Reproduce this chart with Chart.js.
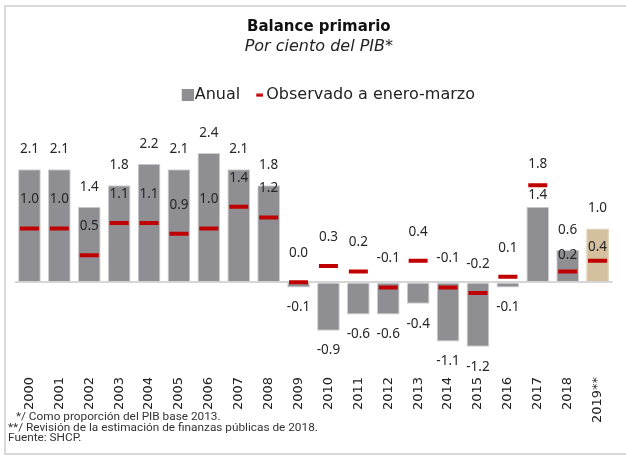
<!DOCTYPE html>
<html>
<head>
<meta charset="utf-8">
<script src="https://cdn.jsdelivr.net/npm/chart.js@4.4.0/dist/chart.umd.min.js"></script>
<style>
  html, body { margin: 0; padding: 0; background: #fff; }
</style>
</head>
<body>
<canvas id="myChart" width="626" height="455"></canvas>
<script>
// datos
var years = ['2000', '2001', '2002', '2003', '2004', '2005', '2006', '2007', '2008', '2009',
	'2010', '2011', '2012', '2013', '2014', '2015', '2016', '2017', '2018', '2019**'];
var anual = [2.1, 2.1, 1.4, 1.8, 2.2, 2.1, 2.4, 2.1, 1.8, -0.1,
	-0.9, -0.6, -0.6, -0.4, -1.1, -1.2, -0.1, 1.4, 0.6, 1.0];
var observado = [1.0, 1.0, 0.5, 1.1, 1.1, 0.9, 1.0, 1.4, 1.2, 0.0,
	0.3, 0.2, -0.1, 0.4, -0.1, -0.2, 0.1, 1.8, 0.2, 0.4];
var notas = [
	'*/ Como proporción del PIB base 2013.',
	'**/ Revisión de la estimación de finanzas públicas de 2018.',
	'Fuente: SHCP.'
];

var GRIS = '#8f8e93';
var ARENA = '#d4c09e';
var ROJO = '#c00000';

// iconos de la leyenda (el simbolo va pegado al texto)
function hazIcono(w, h, x0, x1, alto, color) {
	var c = document.createElement('canvas');
	c.width = w;
	c.height = h;
	var g = c.getContext('2d');
	g.fillStyle = color;
	g.fillRect(x0, (h - alto) / 2, x1 - x0, alto);
	return c;
}
var iconos = [hazIcono(38, 12, 26, 38, 12, GRIS), hazIcono(34, 4, 27, 34, 3, ROJO)];

var marco = {
	id: 'marco',
	beforeDraw: function(chart) {
		var c = chart.ctx;
		c.save();
		c.fillStyle = '#fff';
		c.fillRect(0, 0, chart.width, chart.height);
		c.restore();
	},
	afterDraw: function(chart) {
		var c = chart.ctx;
		c.save();
		c.strokeStyle = '#d9d9d9';
		c.lineWidth = 2;
		c.strokeRect(5, 6, chart.width, chart.height - 7);
		c.font = '11.8px Roboto';
		c.fillStyle = '#333';
		c.textBaseline = 'middle';
		c.fillText(notas[0], 16, 417);
		c.fillText(notas[1], 8, 428);
		c.fillText(notas[2], 8, 438.5);
		c.restore();
	}
};

var etiquetas = {
	id: 'etiquetas',
	afterDatasetsDraw: function(chart, args, opts) {
		var c = chart.ctx;
		var barras = chart.getDatasetMeta(0).data;
		var marcas = chart.getDatasetMeta(1).data;
		c.save();
		c.font = '13.5px "Noto Sans"';
		c.fillStyle = '#262626';
		c.textAlign = 'center';
		c.textBaseline = 'middle';
		barras.forEach(function(b, i) {
			var v = anual[i];
			var d = opts.sepBarra[i] || 20;
			c.fillText(v.toFixed(1), b.x, v >= 0 ? b.y - d : b.y + d);
		});
		marcas.forEach(function(m, i) {
			var d = opts.sepMarca[i] || 29;
			c.fillText(observado[i].toFixed(1), m.x, m.y - d);
		});
		c.restore();
	}
};

var myChart = new Chart(document.getElementById('myChart'), {
	type: 'bar',
	data: {
		labels: years,
		datasets: [
			{
				label: 'Anual',
				data: anual,
				order: 1,
				backgroundColor: function(ctx) { return ctx.dataIndex === years.length - 1 ? ARENA : GRIS; },
				borderColor: function(ctx) { return ctx.dataIndex === years.length - 1 ? '#dccdb2' : '#cfcfd2'; },
				borderWidth: 1,
				barPercentage: 0.76,
				categoryPercentage: 1
			},
			{
				type: 'line',
				label: 'Observado a enero-marzo',
				data: observado,
				order: 0,
				showLine: false,
				pointStyle: 'line',
				pointRadius: 9.5,
				pointHoverRadius: 9.5,
				pointBorderWidth: 4,
				pointBorderColor: ROJO,
				pointBackgroundColor: ROJO,
				borderColor: ROJO,
				backgroundColor: ROJO
			}
		]
	},
	options: {
		responsive: false,
		animation: false,
		devicePixelRatio: 1,
		layout: { padding: { left: 14.5, right: 2.8, top: 0, bottom: 0 } },
		plugins: {
			title: {
				display: true,
				text: 'Balance primario',
				color: '#111',
				font: { family: 'DejaVu Sans', size: 15, weight: 'bold' },
				padding: { top: 18, bottom: 0 }
			},
			subtitle: {
				display: true,
				text: 'Por ciento del PIB*',
				color: '#222',
				font: { family: 'DejaVu Sans', size: 16, style: 'italic' },
				padding: { top: 1, bottom: 25 }
			},
			legend: {
				title: { display: true, text: ' ', padding: 0, font: { size: 10, lineHeight: 1.2 } },
				labels: {
					usePointStyle: true,
					pointStyleWidth: 24,
					padding: -6,
					color: '#222',
					font: { family: 'DejaVu Sans', size: 16 },
					generateLabels: function(chart) {
						var items = Chart.defaults.plugins.legend.labels.generateLabels(chart);
						items.sort(function(a, b) { return a.datasetIndex - b.datasetIndex; });
						items.forEach(function(it) { it.pointStyle = iconos[it.datasetIndex]; });
						return items;
					}
				}
			},
			tooltip: { enabled: false },
			etiquetas: {
				sepBarra: { 17: 12 },
				sepMarca: { 17: 21, 18: 16, 19: 14 }
			}
		},
		scales: {
			x: {
				grid: { display: false, drawTicks: false },
				border: { display: false },
				ticks: {
					color: '#222',
					font: { family: 'DejaVu Sans', size: 13 },
					minRotation: 90,
					maxRotation: 90,
					autoSkip: false,
					padding: 6
				},
				afterFit: function(s) { s.height = 84; }
			},
			y: {
				min: -1.65,
				max: 3.14,
				grid: {
					color: function(c) { return c.tick.value === 0 ? '#d6d6d6' : 'rgba(0,0,0,0)'; },
					lineWidth: 2,
					drawTicks: false
				},
				border: { display: false },
				ticks: { display: false, stepSize: 0.5 },
				afterFit: function(s) { s.width = 0; }
			}
		}
	},
	plugins: [marco, etiquetas]
});
</script>
</body>
</html>
